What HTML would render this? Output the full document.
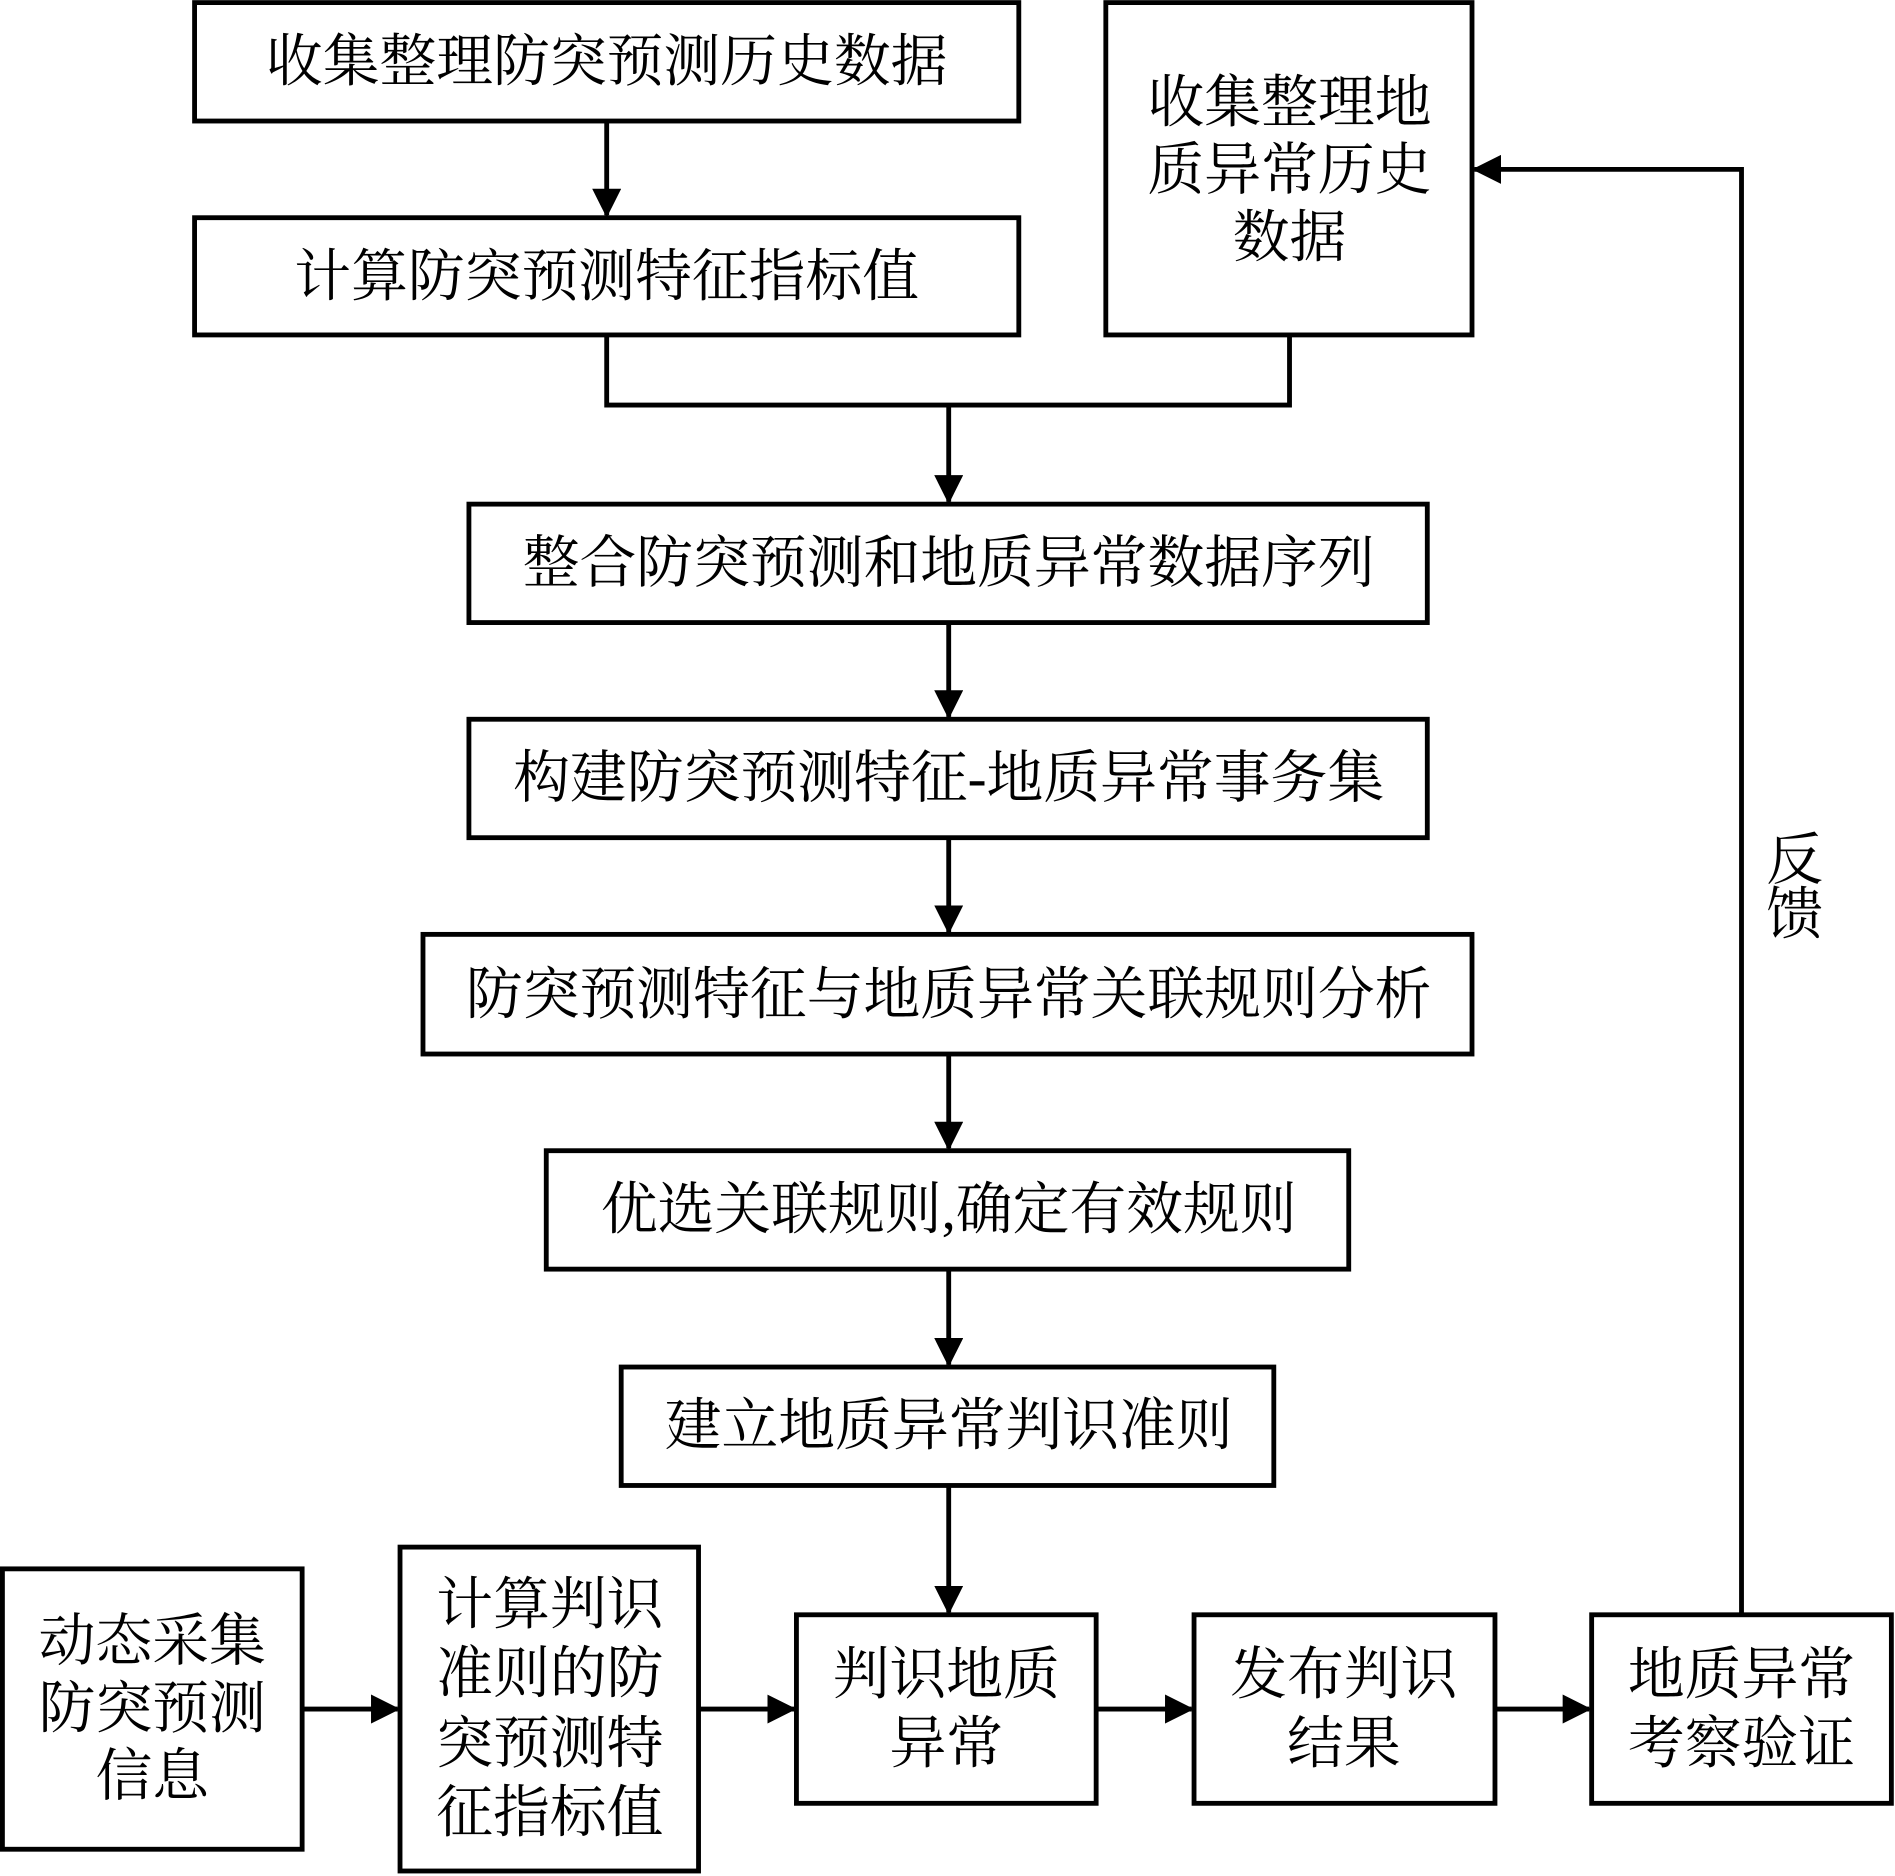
<!DOCTYPE html>
<html><head><meta charset="utf-8"><style>
html,body{margin:0;padding:0;background:#fff;}
svg{display:block}
text{font-family:"Liberation Serif","Noto Serif CJK SC","Noto Sans CJK SC",serif;font-size:47px;fill:#000;text-anchor:middle;dominant-baseline:central}
</style></head><body>
<svg width="1895" height="1876" viewBox="0 0 1568 1552" xmlns="http://www.w3.org/2000/svg">
<defs><marker id="a" markerWidth="24" markerHeight="24" refX="22" refY="12" orient="auto" markerUnits="userSpaceOnUse"><path d="M0,0 L24,12 L0,24 Z" fill="#000"/></marker></defs>
<g fill="none" stroke="#000" stroke-width="4">
<rect x="161" y="2" width="682" height="98"/>
<rect x="161" y="180" width="682" height="97"/>
<rect x="915" y="2" width="303" height="275"/>
<rect x="388" y="417" width="793" height="98"/>
<rect x="388" y="595" width="793" height="98"/>
<rect x="350" y="773" width="868" height="99"/>
<rect x="452" y="952" width="664" height="98"/>
<rect x="514" y="1131" width="540" height="98"/>
<rect x="2" y="1298" width="248" height="232"/>
<rect x="331" y="1280" width="247" height="268"/>
<rect x="659" y="1336" width="248" height="156"/>
<rect x="988" y="1336" width="249" height="156"/>
<rect x="1317" y="1336" width="248" height="156"/>
</g>
<g fill="none" stroke="#000" stroke-width="4" marker-end="url(#a)">
<path d="M502,100 V178"/>
<path d="M785,335 V415"/>
<path d="M785,515 V593"/>
<path d="M785,693 V771"/>
<path d="M785,872 V950"/>
<path d="M785,1050 V1129"/>
<path d="M785,1229 V1334"/>
<path d="M250,1414 H329"/>
<path d="M578,1414 H657"/>
<path d="M907,1414 H986"/>
<path d="M1237,1414 H1315"/>
<path d="M1441,1336 V140 H1220"/>
</g>
<path d="M502,277 V335 H1067 V277" fill="none" stroke="#000" stroke-width="4"/>
<text x="502" y="51">收集整理防突预测历史数据</text>
<text x="502" y="229">计算防突预测特征指标值</text>
<text x="1067" y="85">收集整理地</text>
<text x="1067" y="141">质异常历史</text>
<text x="1067" y="197">数据</text>
<text x="785" y="466">整合防突预测和地质异常数据序列</text>
<text x="785" y="644">构建防突预测特征-地质异常事务集</text>
<text x="785" y="823">防突预测特征与地质异常关联规则分析</text>
<text x="785" y="1001">优选关联规则,确定有效规则</text>
<text x="785" y="1180">建立地质异常判识准则</text>
<text x="126" y="1358">动态采集</text>
<text x="126" y="1414">防突预测</text>
<text x="126" y="1470">信息</text>
<text x="455" y="1328">计算判识</text>
<text x="455" y="1385">准则的防</text>
<text x="455" y="1443">突预测特</text>
<text x="455" y="1500">征指标值</text>
<text x="783" y="1386">判识地质</text>
<text x="783" y="1443">异常</text>
<text x="1112" y="1386">发布判识</text>
<text x="1112" y="1443">结果</text>
<text x="1441" y="1386">地质异常</text>
<text x="1441" y="1443">考察验证</text>
<text x="1485" y="712">反</text>
<text x="1485" y="757">馈</text>
</svg>
</body></html>
